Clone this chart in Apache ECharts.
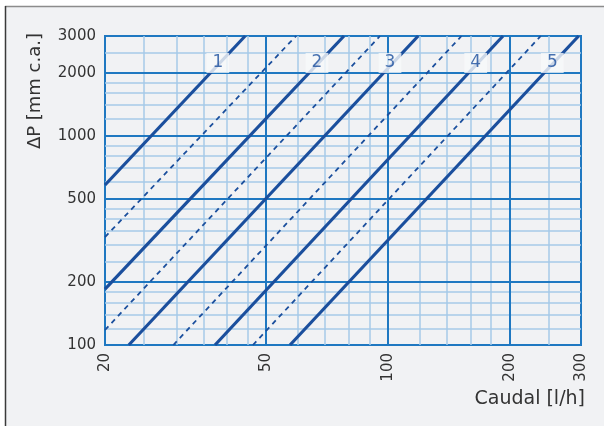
<!DOCTYPE html>
<html>
<head>
<meta charset="utf-8">
<script src="https://cdn.jsdelivr.net/npm/echarts@6/dist/echarts.min.js"></script>
<style>
  html, body { margin: 0; padding: 0; background: #ffffff; }
  #chart { width: 604px; height: 426px; }
</style>
</head>
<body>
<div id="chart"></div>
<script>
// Flow rate [l/h] vs pressure drop [mm c.a.], log-log
const xTicks = [20, 50, 100, 200, 300];
const yTicks = [100, 200, 500, 1000, 2000, 3000];
const xMajorGrid = [50, 100, 200];
const yMajorGrid = [200, 500, 1000, 2000];
const xMinorGrid = [25, 30, 35, 40, 45, 60, 70, 80, 90, 120, 140, 160, 180, 250];
const yMinorGrid = [120, 140, 160, 180, 250, 300, 350, 400, 450, 600, 700, 800, 900,
                    1200, 1400, 1600, 1800, 2500];

// Characteristic curves (solid) and intermediate settings (dashed): [Q, ΔP] end points
const curve1 = [[20, 582], [44.4, 3000]];
const dashA  = [[20, 328], [59.3, 3000]];
const curve2 = [[20, 185], [77.9, 3000]];
const dashB  = [[20, 118], [95.6, 3000]];
const curve3 = [[22.9, 100], [118.8, 3000]];
const dashC  = [[29.5, 100], [152, 3000]];
const curve4 = [[37.4, 100], [192.5, 3000]];
const dashD  = [[46.4, 100], [238.6, 3000]];
const curve5 = [[57.3, 100], [296, 3000]];

const curveNames = ['1', '2', '3', '4', '5'];
const curveLabelQ = [38.0, 66.8, 101.2, 164.8, 254.8];
const curveLabelP = 2230;

const BLUE_DARK = '#1b4f9d';
const BLUE_MAJOR = '#1f78c1';
const BLUE_MINOR = '#a6cae8';
const TEXT = '#333333';
const FONT = 'DejaVu Sans';

function gridLines(values, axisKey) {
  return values.map(v => ({ [axisKey]: v }));
}

function curveSeries(name, data, dashed) {
  return {
    name: name,
    type: 'line',
    data: data,
    symbol: 'none',
    clip: true,
    z: 5,
    silent: true,
    animation: false,
    lineStyle: dashed
      ? { color: BLUE_DARK, width: 1.8, type: [5, 4.5] }
      : { color: BLUE_DARK, width: 3.2 }
  };
}

const chart = echarts.init(document.getElementById('chart'), null, { renderer: 'canvas' });

chart.setOption({
  backgroundColor: '#ffffff',
  animation: false,
  textStyle: { fontFamily: FONT },
  graphic: [
    { type: 'rect', z: -10, shape: { x: 5, y: 6, width: 620, height: 440 },
      style: { fill: '#f1f2f4', stroke: null, lineWidth: 0 } },
    { type: 'line', z: -9, shape: { x1: 5, y1: 6.5, x2: 610, y2: 6.5 },
      style: { stroke: '#8c8c8c', lineWidth: 1.5 } },
    { type: 'line', z: -9, shape: { x1: 5.5, y1: 6, x2: 5.5, y2: 430 },
      style: { stroke: '#3a3a3a', lineWidth: 1.5 } },
    { type: 'text', left: 26, top: 33, z: 10,
      style: { text: 'ΔP [mm c.a.]', font: '18px "DejaVu Sans"', fill: TEXT },
      rotation: Math.PI / 2, originX: 0, originY: 0 },
    { type: 'text', right: 19, top: 390, z: 10,
      style: { text: 'Caudal [l/h]', font: '19px "DejaVu Sans"', fill: TEXT } }
  ],
  grid: {
    left: 105, top: 36, right: 23, bottom: 81,
    show: true, borderColor: BLUE_MAJOR, borderWidth: 2,
    backgroundColor: 'transparent', z: 3
  },
  xAxis: {
    type: 'log', logBase: 10, min: 20, max: 300,
    axisLine: { show: false },
    axisTick: { show: false },
    splitLine: { show: false },
    axisLabel: {
      customValues: xTicks,
      formatter: v => String(v),
      rotate: 90, margin: 8,
      color: TEXT, fontSize: 15, fontFamily: FONT,
      showMinLabel: true, showMaxLabel: true
    }
  },
  yAxis: {
    type: 'log', logBase: 10, min: 100, max: 3000,
    axisLine: { show: false },
    axisTick: { show: false },
    splitLine: { show: false },
    axisLabel: {
      customValues: yTicks,
      formatter: v => String(v),
      margin: 9,
      color: TEXT, fontSize: 15, fontFamily: FONT,
      showMinLabel: true, showMaxLabel: true
    }
  },
  series: [
    {
      name: 'minor-grid', type: 'line', data: [], z: 1, silent: true,
      markLine: {
        silent: true, symbol: ['none', 'none'], label: { show: false },
        animation: false,
        lineStyle: { color: BLUE_MINOR, width: 1.5, type: 'solid' },
        data: gridLines(xMinorGrid, 'xAxis').concat(gridLines(yMinorGrid, 'yAxis'))
      }
    },
    {
      name: 'major-grid', type: 'line', data: [], z: 2, silent: true,
      markLine: {
        silent: true, symbol: ['none', 'none'], label: { show: false },
        animation: false,
        lineStyle: { color: BLUE_MAJOR, width: 2, type: 'solid' },
        data: gridLines(xMajorGrid, 'xAxis').concat(gridLines(yMajorGrid, 'yAxis'))
      }
    },
    curveSeries('1', curve1, false),
    curveSeries('1-2', dashA, true),
    curveSeries('2', curve2, false),
    curveSeries('2-3', dashB, true),
    curveSeries('3', curve3, false),
    curveSeries('3-4', dashC, true),
    curveSeries('4', curve4, false),
    curveSeries('4-5', dashD, true),
    curveSeries('5', curve5, false),
    {
      name: 'curve-labels', type: 'scatter', z: 8, silent: true,
      symbolSize: 0,
      data: curveLabelQ.map((q, i) => ({ value: [q, curveLabelP], name: curveNames[i] })),
      label: {
        show: true, position: 'inside',
        formatter: p => p.name,
        color: BLUE_DARK, fontSize: 17, fontFamily: FONT,
        textBorderWidth: 0, textBorderColor: 'transparent',
        backgroundColor: '#f8f9fa',
        padding: [2, 6, 1, 6],
        lineHeight: 17
      }
    }
  ]
});
</script>
</body>
</html>
